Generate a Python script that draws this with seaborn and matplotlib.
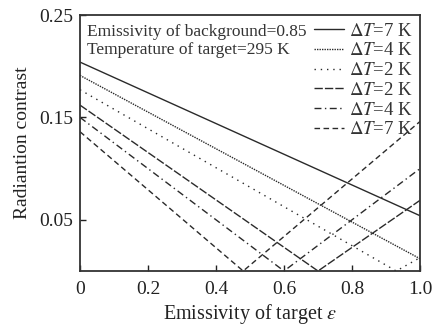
import matplotlib
matplotlib.use("Agg")
import matplotlib.pyplot as plt
import seaborn as sns
import pandas as pd

# ---- data ----
eps_pos7 = [0.0, 1.0]
con_pos7 = [0.204, 0.054]
eps_pos4 = [0.0, 1.0]
con_pos4 = [0.191, 0.012]
eps_pos2 = [0.0, 0.93, 1.0]
con_pos2 = [0.177, 0.0, 0.013]
eps_neg2 = [0.0, 0.70, 1.0]
con_neg2 = [0.162, 0.0, 0.069]
eps_neg4 = [0.0, 0.60, 1.0]
con_neg4 = [0.150, 0.0, 0.100]
eps_neg7 = [0.0, 0.48, 1.0]
con_neg7 = [0.136, 0.0, 0.146]

labels = [r"$\Delta T$=7 K", r"$\Delta T$=4 K", r"$\Delta T$=2 K",
          r"$\Delta T$=2 K", r"$\Delta T$=4 K", r"$\Delta T$=7 K"]
x_ticks = [0, 0.2, 0.4, 0.6, 0.8, 1.0]
x_ticklabels = ["0", "0.2", "0.4", "0.6", "0.8", "1.0"]
y_ticks = [0.05, 0.15, 0.25]
y_ticklabels = ["0.05", "0.15", "0.25"]

series = [(eps_pos7, con_pos7), (eps_pos4, con_pos4), (eps_pos2, con_pos2),
          (eps_neg2, con_neg2), (eps_neg4, con_neg4), (eps_neg7, con_neg7)]
styles = ["-", (0, (1, 0.8)), (0, (1, 3.5)), (0, (6, 1.5)), (0, (5, 2.5, 1, 2.5)), (0, (4, 2.5))]

sns.set_theme(style="ticks")
plt.rcParams["font.family"] = ["Liberation Serif", "DejaVu Serif"]
plt.rcParams["mathtext.fontset"] = "stix"

fig = plt.figure(figsize=(4.38, 3.29), dpi=100)
ax = fig.add_axes([80/438, 1-271/329, 340/438, 256/329])

handles = []
for (xs, ys), ls, lab in zip(series, styles, labels):
    df = pd.DataFrame({"eps": xs, "c": ys})
    sns.lineplot(data=df, x="eps", y="c", ax=ax, color="#2a2a2a", linewidth=1.0,
                 linestyle=ls, sort=False, label=lab, legend=False)
    handles.append(ax.lines[-1])

ax.set_xlim(0, 1.0)
ax.set_ylim(0, 0.25)
ax.set_xticks(x_ticks)
ax.set_xticklabels(x_ticklabels)
ax.set_yticks(y_ticks)
ax.set_yticklabels(y_ticklabels)
ax.tick_params(direction="in", length=4, width=1, labelsize=14, colors="#222222")
ax.tick_params(axis="x", pad=7)
ax.tick_params(axis="y", pad=5)
for s in ax.spines.values():
    s.set_visible(True)
    s.set_linewidth(1.3)
    s.set_color("#333333")

ax.set_xlabel(r"Emissivity of target $\varepsilon$", fontsize=14.5, color="#222222", labelpad=3)
ax.set_ylabel("Radiantion contrast", fontsize=14, color="#222222", labelpad=6)

ax.text(0.022, 0.935, "Emissivity of background=0.85", transform=ax.transAxes,
        fontsize=12.5, color="#333333", va="center", ha="left")
ax.text(0.022, 0.865, "Temperature of target=295 K", transform=ax.transAxes,
        fontsize=12.5, color="#333333", va="center", ha="left")

leg = ax.legend(handles, labels, loc="upper right", frameon=False, fontsize=13.5,
                handlelength=1.6, handletextpad=0.25, labelspacing=0.14,
                borderaxespad=0.2, borderpad=0.2)
for t in leg.get_texts():
    t.set_color("#333333")

fig.savefig("out.png", dpi=100, facecolor="white")
